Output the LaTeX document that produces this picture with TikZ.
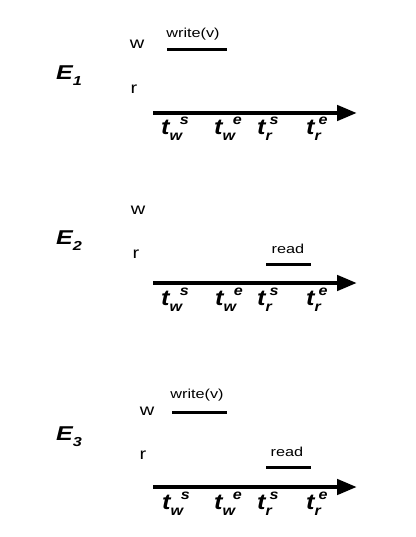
\documentclass[tikz,border=0pt]{standalone}
\usepackage{fontspec}
\setmainfont{Liberation Sans}
\usetikzlibrary{arrows.meta}

% text in the figure is a bit stretched sideways
\newcommand{\wide}[1]{\scalebox{1.25}[1]{#1}}
\newcommand{\tlab}[2]{\scalebox{1.15}[1]{\bfseries\itshape\fontsize{22}{22}\selectfont t\raisebox{-6pt}{\fontsize{14}{14}\selectfont #1}\hspace{-2pt}\raisebox{10pt}{\fontsize{14}{14}\selectfont #2}}}
\newcommand{\elab}[1]{\wide{\bfseries\itshape\fontsize{20}{20}\selectfont E\raisebox{-6pt}{\fontsize{13}{13}\selectfont #1}}}

\begin{document}
\begin{tikzpicture}[
    x=1pt, y=-1pt,
    axis/.style={line width=4.5pt, -{Triangle[length=20pt,width=15pt]}},
    op/.style={line width=3pt},
    proc/.style={anchor=base, inner sep=0pt, font=\fontsize{16}{16}\selectfont},
    oplabel/.style={anchor=base, inner sep=0pt, font=\fontsize{13}{13}\selectfont},
    tick/.style={anchor=base west, inner sep=0pt},
]
    \useasboundingbox (0,0) rectangle (415,537);

    % Execution E1: write only
    \node[tick] (e1) at (56,80) {\elab{1}};
    \node[proc] (w1) at (137,49) {\wide{w}};
    \node[proc] (r1) at (134,94) {\wide{r}};
    \node[oplabel] (wl1) at (193,38) {\wide{write(v)}};
    \coordinate (ws1) at (167,50);
    \coordinate (we1) at (227,50);
    \draw[op] (ws1) -- (we1);
    \coordinate (a1) at (153,113);
    \coordinate (b1) at (357,113);
    \draw[axis] (a1) -- (b1);
    \node[tick] (tws1) at (161,135) {\tlab{w}{s}};
    \node[tick] (twe1) at (214,135) {\tlab{w}{e}};
    \node[tick] (trs1) at (257,135) {\tlab{r}{s}};
    \node[tick] (tre1) at (306,135) {\tlab{r}{e}};

    % Execution E2: read only
    \node[tick] (e2) at (56,244) {\elab{2}};
    \node[proc] (w2) at (138,214) {\wide{w}};
    \node[proc] (r2) at (136,258) {\wide{r}};
    \node[oplabel] (rl2) at (288,253) {\wide{read}};
    \coordinate (rs2) at (266,264);
    \coordinate (re2) at (311,264);
    \draw[op] (rs2) -- (re2);
    \coordinate (a2) at (153,283);
    \coordinate (b2) at (357,283);
    \draw[axis] (a2) -- (b2);
    \node[tick] (tws2) at (161,305) {\tlab{w}{s}};
    \node[tick] (twe2) at (215,305) {\tlab{w}{e}};
    \node[tick] (trs2) at (257,305) {\tlab{r}{s}};
    \node[tick] (tre2) at (306,305) {\tlab{r}{e}};

    % Execution E3: write, then read
    \node[tick] (e3) at (56,440) {\elab{3}};
    \node[proc] (w3) at (147,415) {\wide{w}};
    \node[proc] (r3) at (143,459) {\wide{r}};
    \node[oplabel] (wl3) at (197,398) {\wide{write(v)}};
    \coordinate (ws3) at (172,412);
    \coordinate (we3) at (227,412);
    \draw[op] (ws3) -- (we3);
    \node[oplabel] (rl3) at (287,456) {\wide{read}};
    \coordinate (rs3) at (266,467);
    \coordinate (re3) at (311,467);
    \draw[op] (rs3) -- (re3);
    \coordinate (a3) at (153,487);
    \coordinate (b3) at (357,487);
    \draw[axis] (a3) -- (b3);
    \node[tick] (tws3) at (162,509) {\tlab{w}{s}};
    \node[tick] (twe3) at (214,509) {\tlab{w}{e}};
    \node[tick] (trs3) at (257,509) {\tlab{r}{s}};
    \node[tick] (tre3) at (306,509) {\tlab{r}{e}};
\end{tikzpicture}
\end{document}
